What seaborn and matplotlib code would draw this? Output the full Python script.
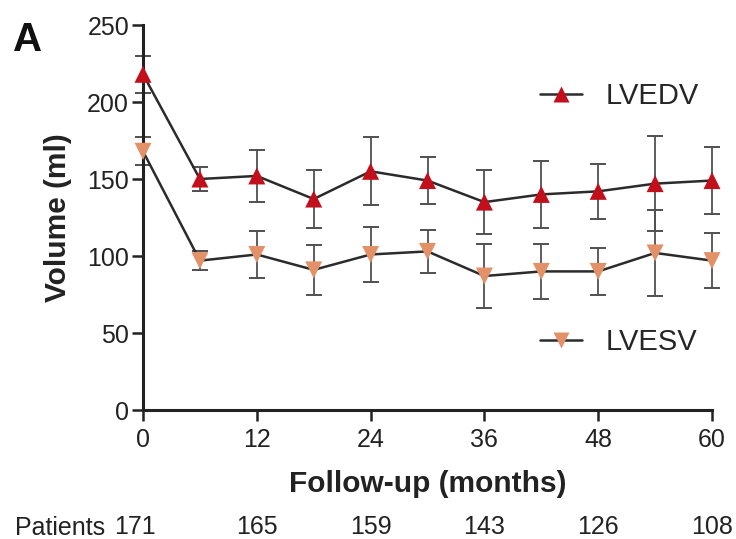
import matplotlib
matplotlib.use("Agg")
import matplotlib.pyplot as plt
from matplotlib.lines import Line2D
import seaborn as sns
import pandas as pd

# ---- data ----
months = [0, 6, 12, 18, 24, 30, 36, 42, 48, 54, 60]
lvedv_mean = [218, 150, 152, 137, 155, 149, 135, 140, 142, 147, 149]
lvedv_sd = [12, 8, 17, 19, 22, 15, 21, 22, 18, 31, 22]
lvesv_mean = [168, 97, 101, 91, 101, 103, 87, 90, 90, 102, 97]
lvesv_sd = [9, 6, 15, 16, 18, 14, 21, 18, 15, 28, 18]
x_ticks = [0, 12, 24, 36, 48, 60]
y_ticks = [0, 50, 100, 150, 200, 250]
patients = [171, 165, 159, 143, 126, 108]

sns.set_style("ticks")
plt.rcParams['font.family'] = ['Liberation Sans', 'DejaVu Sans']

red = "#C20F1C"
salmon = "#E39169"
ink = "#222222"

df = pd.DataFrame({
    "month": months * 2,
    "volume": lvedv_mean + lvesv_mean,
    "sd": lvedv_sd + lvesv_sd,
    "series": ["LVEDV"] * len(months) + ["LVESV"] * len(months),
})

fig = plt.figure(figsize=(7.36, 5.39), dpi=100)
ax = fig.add_axes([0.1943, 0.2393, 0.7731, 0.7143])

# error bars
for name in ["LVEDV", "LVESV"]:
    sub = df[df.series == name]
    ax.errorbar(sub.month, sub.volume, yerr=sub.sd, fmt="none",
                ecolor="#505050", elinewidth=1.3, capsize=6, capthick=1.4,
                zorder=2, clip_on=False)

sns.lineplot(data=df, x="month", y="volume", hue="series",
             palette={"LVEDV": "#2b2b2b", "LVESV": "#2b2b2b"},
             linewidth=1.8, legend=False, ax=ax, zorder=3)

# markers on top
for name, col, mk in [("LVEDV", red, "^"), ("LVESV", salmon, "v")]:
    sub = df[df.series == name]
    sns.scatterplot(x=sub.month, y=sub.volume, color=col, marker=mk,
                    s=150, edgecolor="none", ax=ax, zorder=4, clip_on=False,
                    legend=False)

ax.set_xlim(0, 60)
ax.set_ylim(0, 250)
ax.set_xticks(x_ticks)
ax.set_yticks(y_ticks)
ax.tick_params(axis="both", labelsize=18, width=1.8, length=8, color=ink,
               labelcolor=ink)
ax.tick_params(axis="x", pad=5)
ax.tick_params(axis="y", pad=2)
for sp in ["left", "bottom"]:
    ax.spines[sp].set_linewidth(2.2)
    ax.spines[sp].set_color(ink)
sns.despine(ax=ax)

ax.set_xlabel("Follow-up (months)", fontsize=21.5, fontweight="bold",
              color=ink, labelpad=13)
ax.set_ylabel("Volume (ml)", fontsize=21.5, fontweight="bold",
              color=ink, labelpad=11)

# legends
h1 = Line2D([], [], color="#2b2b2b", lw=1.8, marker="^", markersize=12,
            markerfacecolor=red, markeredgecolor="none")
h2 = Line2D([], [], color="#2b2b2b", lw=1.8, marker="v", markersize=12,
            markerfacecolor=salmon, markeredgecolor="none")
leg_kw = dict(loc="center left", frameon=False, fontsize=21,
              handlelength=1.45, handletextpad=0.8, borderpad=0,
              borderaxespad=0)
leg1 = ax.legend([h1], ["LVEDV"], bbox_to_anchor=(0.698, 0.815), **leg_kw)
ax.add_artist(leg1)
ax.legend([h2], ["LVESV"], bbox_to_anchor=(0.698, 0.177), **leg_kw)

# panel letter
fig.text(0.018, 0.905, "A", fontsize=29, fontweight="bold", color="#111111")

# patients row
fig.text(15 / 736, 0.02, "Patients", fontsize=18, color=ink, va="center")
trans = ax.get_xaxis_transform()
for m, p in zip(x_ticks, patients):
    xpos = m if m > 0 else -0.85
    ax.text(xpos, -0.305, str(p), transform=trans, fontsize=18,
            ha="center", va="center", color=ink, clip_on=False)

fig.savefig("out.png", dpi=100)
